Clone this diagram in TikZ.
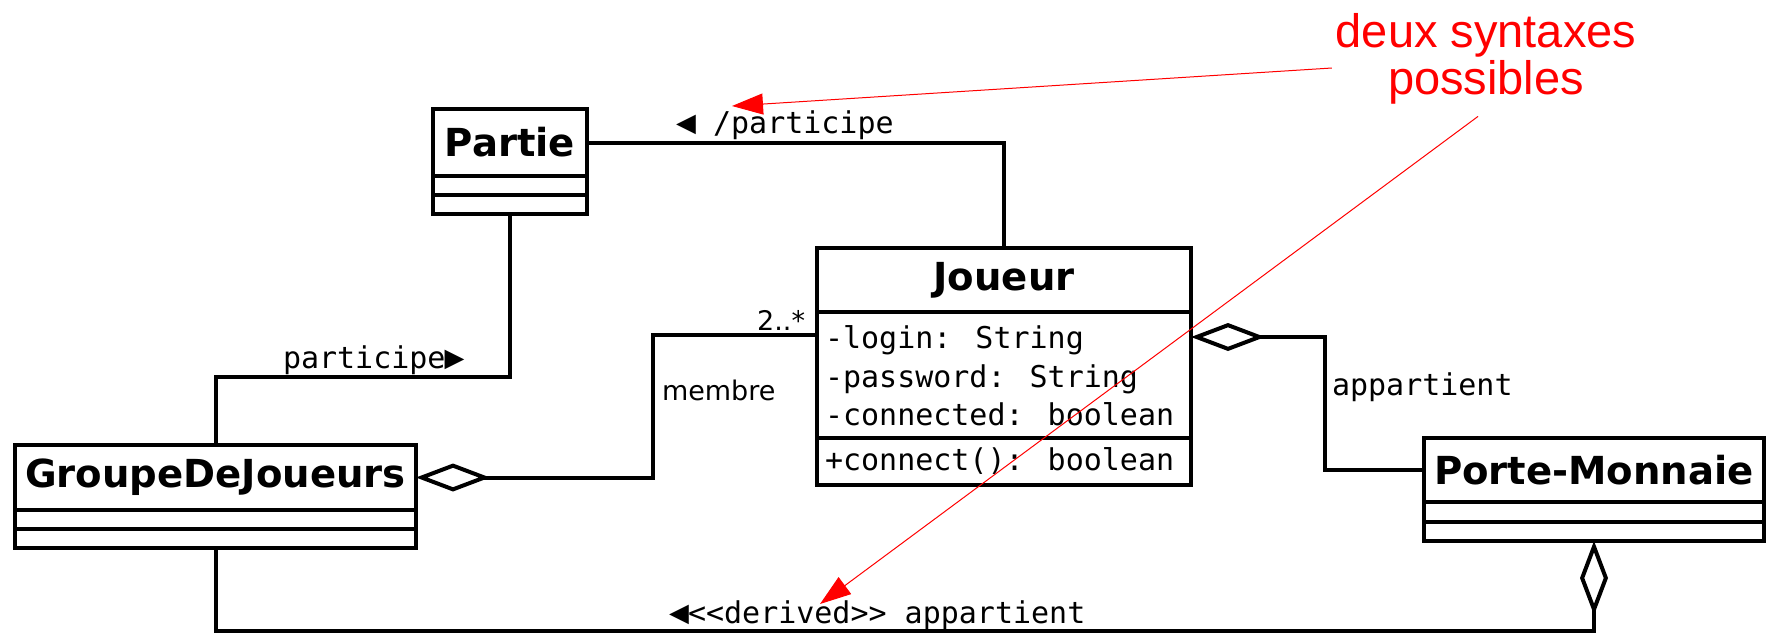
\documentclass[tikz,border=0pt]{standalone}
\usepackage{fontspec}
\usetikzlibrary{arrows.meta,calc}
\newfontfamily\umlsans{DejaVu Sans}
\newfontfamily\umlmono{DejaVu Sans Mono}
\newfontfamily\notefont{Liberation Sans}
% reading-direction pointer of an association name, one mono cell wide
\newcommand\dirptr[1]{\makebox[9pt][c]{\fontsize{16.5}{16.5}\selectfont #1}}

\begin{document}
\begin{tikzpicture}[x=0.5pt,y=-0.5pt,
  line width=2pt,
  classhead/.style={draw, line width=2pt, inner sep=0pt, outer sep=0pt,
    anchor=north west, font=\umlsans\bfseries\fontsize{19.3}{21}\selectfont},
  compart/.style={draw, line width=2pt, inner sep=0pt, outer sep=0pt, anchor=north},
  member/.style={inner sep=0pt, anchor=base west, font=\umlmono\fontsize{15}{18}\selectfont},
  rolelbl/.style={inner sep=0pt, font=\umlmono\fontsize{15}{18}\selectfont},
  multlbl/.style={inner sep=0pt, font=\umlsans\fontsize{13.5}{16}\selectfont},
  assoc/.style={line width=2pt},
  aggr/.style={line width=2pt, {Diamond[open, length=37pt, width=14pt, line width=2pt]}-},
  notetext/.style={inner sep=0pt, text=red, align=center,
    font=\notefont\fontsize{23.5}{23.5}\selectfont},
  notearrow/.style={draw=red, line width=0.5pt, -{Triangle[length=15.5pt, width=10.5pt]}, red}
]
\useasboundingbox (0,0) rectangle (1771,634);

% ---- class Partie ----
\node[classhead, minimum width=77pt, minimum height=33.5pt] (partie) at (433,109) {Partie};
\node[compart, minimum width=77pt, minimum height=9.5pt] (partie-attr) at (partie.south) {};
\node[compart, minimum width=77pt, minimum height=9.5pt] (partie-ops) at (partie-attr.south) {};

% ---- class Joueur ----
\node[classhead, minimum width=187pt, minimum height=32pt] (joueur) at (817,248) {Joueur};
\node[compart, minimum width=187pt, minimum height=63pt] (joueur-attr) at (joueur.south) {};
\node[compart, minimum width=187pt, minimum height=23.5pt] (joueur-ops) at (joueur-attr.south) {};
\node[member] (j-login) at (823,348) {-login: String};
\node[member] (j-pass) at (823,387) {-password: String};
\node[member] (j-conn) at (823,425) {-connected: boolean};
\node[member] (j-op) at (823,470) {+connect(): boolean};

% ---- class GroupeDeJoueurs ----
\node[classhead, minimum width=200.5pt, minimum height=32.5pt] (grp) at (15,445) {GroupeDeJoueurs};
\node[compart, minimum width=200.5pt, minimum height=9.5pt] (grp-attr) at (grp.south) {};
\node[compart, minimum width=200.5pt, minimum height=9.5pt] (grp-ops) at (grp-attr.south) {};

% ---- class Porte-Monnaie ----
\node[classhead, minimum width=170pt, minimum height=32pt] (porte) at (1424,438) {Porte-Monnaie};
\node[compart, minimum width=170pt, minimum height=10pt] (porte-attr) at (porte.south) {};
\node[compart, minimum width=170pt, minimum height=9.5pt] (porte-ops) at (porte-attr.south) {};

% ---- associations ----
% derived association Partie -- Joueur
\draw[assoc] (partie.east) -| (joueur.north);
\node[rolelbl, anchor=base west] (lbl-dpart) at (675,133) {\dirptr{◀} /participe};

% Partie -- GroupeDeJoueurs
\draw[assoc] (partie-ops.south) -- ++(0,163) -| (grp.north);
\node[rolelbl, anchor=base west] (lbl-part) at (281,368) {participe\dirptr{▶}};

% GroupeDeJoueurs <>-- Joueur (membre)
\coordinate (m-bend) at (653,477.5);
\draw[aggr] (grp.east) -- (m-bend) |- ($(joueur-attr.north west)+(0,23)$);
\node[multlbl, anchor=base east] (lbl-mult) at (807,330) {2..*};
\node[multlbl, anchor=base west] (lbl-membre) at (660,400) {membre};

% Joueur <>-- Porte-Monnaie
\coordinate (a-bend) at (1325,337);
\draw[aggr] ($(joueur-attr.north east)+(0,25)$) -- (a-bend) |- (porte.west);
\node[rolelbl, anchor=base west] (lbl-app) at (1330,395) {appartient};

% Porte-Monnaie <>-- GroupeDeJoueurs (derived)
\draw[aggr] (porte-ops.south) -- ++(0,90) -| (grp-ops.south);
\node[rolelbl, anchor=base west] (lbl-derived) at (668,623) {\dirptr{◀}<<derived>> appartient};

% ---- annotation ----
\node[notetext] (note) at (1486,59) {deux syntaxes\\possibles};
\coordinate (tgt1) at (732,106);
\coordinate (tgt2) at (820,604);
\draw[notearrow] ($(note.west)+(-2,9)$) -- (tgt1);
\draw[notearrow] ($(note.south)+(-8,10)$) -- (tgt2);
\end{tikzpicture}
\end{document}
